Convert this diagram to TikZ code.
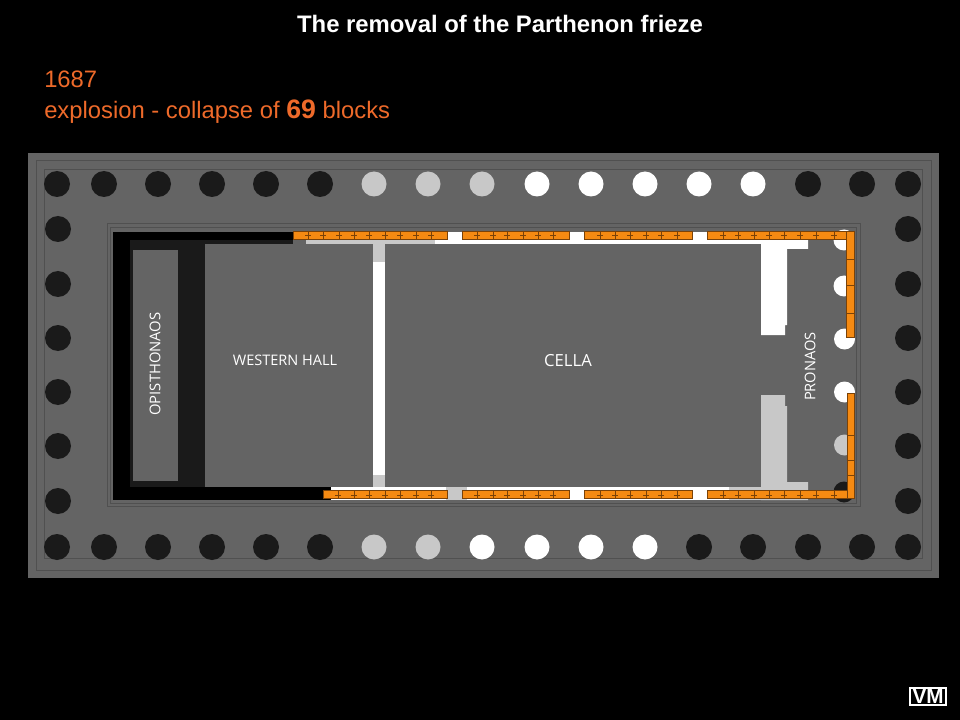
\documentclass[tikz,border=0pt]{standalone}
\usepackage{fontspec}
\setmainfont{Liberation Sans}
\newfontfamily\planfont{Open Sans}
\definecolor{slab}{HTML}{646464}
\definecolor{slabline}{HTML}{505050}
\definecolor{darkcol}{HTML}{1A1A1A}
\definecolor{lightstone}{HTML}{C8C8C8}
\definecolor{frieze}{HTML}{F58A12}
\definecolor{friezeline}{HTML}{7A4208}
\definecolor{heading}{HTML}{EE6A2A}
\tikzset{
  x=0.75pt,y=-0.75pt,
  outlinebox/.style={draw=slabline,line width=0.75pt},
  coldark/.style={fill=darkcol,draw=none},
  collight/.style={fill=lightstone,draw=none},
  colwhite/.style={fill=white,draw=none},
  friezeblock/.style={fill=frieze,draw=friezeline,line width=0.35pt},
  tick/.style={draw=friezeline,line width=0.6pt},
  roomlabel/.style={text=white,font=\planfont,inner sep=0pt},
  headline/.style={text=heading,anchor=west,inner sep=0pt,font=\fontsize{17.85}{20}\selectfont},
}
\newcommand{\colsat}[3]{\foreach \cx/\cy in {#2}{\fill[#1] (\cx,\cy) circle[radius=#3];}}
\newcommand{\topticks}[1]{\foreach \t in {#1}{\draw[tick] (\t,232)--(\t,239.5); \draw[tick] (\t-3,235)--(\t+3,235);}}
\newcommand{\botticks}[1]{\foreach \t in {#1}{\draw[tick] (\t,490.5)--(\t,498); \draw[tick] (\t-3,495)--(\t+3,495);}}
\begin{document}
\begin{tikzpicture}
\useasboundingbox (0,0) rectangle (960,720);
\fill[black] (0,0) rectangle (960,720);
% platform
\fill[slab] (28,153) rectangle (939,578);
\draw[outlinebox] (36,161) rectangle (931,570);
\draw[outlinebox] (44,170) rectangle (922,558);
\draw[outlinebox] (107,224) rectangle (860,506);
\draw[outlinebox] (110,228) rectangle (856,503);
% outer colonnade
\colsat{coldark}{57/184,104/184,158/184,212/184,266/184,320/184,808/184,862/184,908/184,
  57/547,104/547,158/547,212/547,266/547,320/547,699/547,753/547,808/547,862/547,908/547,
  58/229,58/284,58/338,58/392,58/446,58/501,
  908/229,908/284,908/338,908/392,908/446,908/501}{13}
\colsat{collight}{374/184,428/184,482/184,374/547,428/547}{12.5}
\colsat{colwhite}{537/184,591/184,645/184,699/184,753/184,482/547,537/547,591/547,645/547}{12.5}
% pronaos columns
\colsat{colwhite}{844/240,844/286,844.5/339,844.5/392}{10.5}
\colsat{collight}{844.5/445}{10.5}
\colsat{coldark}{844/492}{10.5}
% west end, fallen away
\fill[black] (113,232) rectangle (307,240);
\fill[black] (113,232) rectangle (130,500);
\fill[black] (113,487) rectangle (331,500);
\fill[darkcol] (130,240) rectangle (293,244);
\fill[darkcol] (130,240) rectangle (205,487);
\fill[slab] (133,250) rectangle (178,481);
% north and south walls
\fill[white] (435,232) rectangle (808,244);
\fill[lightstone] (306,238) rectangle (435,244);
\fill[white] (331,487) rectangle (446,500);
\fill[lightstone] (446,487) rectangle (467,500);
\fill[white] (467,487) rectangle (729,500);
\fill[lightstone] (729,487) rectangle (808,500);
% cross wall
\fill[white] (373,244) rectangle (385,487);
\fill[lightstone] (373,244) rectangle (385,262);
\fill[lightstone] (373,475) rectangle (385,487);
% east antae
\fill[white] (761,244) -- (761,335) -- (785,335) -- (785,325) -- (787,325) -- (787,249) -- (808,249) -- (808,232) -- (761,232) -- cycle;
\fill[lightstone] (761,487) -- (761,395) -- (785,395) -- (785,406) -- (787,406) -- (787,482) -- (808,482) -- (808,500) -- (761,500) -- cycle;
% frieze
\foreach \a/\b in {293/447,462/569,584/692,707/854}{\draw[friezeblock] (\a,231.5) rectangle (\b,239.5);}
\foreach \a/\b in {323/447,462/569,584/692,707/854}{\draw[friezeblock] (\a,490.5) rectangle (\b,498.5);}
\draw[friezeblock] (846,231.5) rectangle (854,337);
\draw[friezeblock] (847,393) rectangle (854,498.5);
\fill[frieze] (846.5,232) rectangle (853.5,239);
\fill[frieze] (847.5,491) rectangle (853.5,498);
\topticks{308,323,339,354,369,385,400,416,431,477,493,507,523,538,553,600,615,630,646,661,677,723,738,754,769,784,800,816,834}
\botticks{338,354,369,385,400,416,431,477,493,507,523,538,553,600,615,630,646,661,677,723,738,754,769,784,800,816,834}
\foreach \t in {259,285,313,435,460,475}{\draw[tick] (846.5,\t)--(853.5,\t);}
% texts
\node[text=white,inner sep=0pt,font=\bfseries\fontsize{17.9}{20}\selectfont] (title) at (500,24) {The removal of the Parthenon frieze};
\node[headline] (year) at (44,79) {1687};
\node[headline] (event) at (44,111.5) {explosion - collapse of {\bfseries\fontsize{20}{20}\selectfont 69} blocks};
\node[roomlabel,font=\planfont\fontsize{10.9}{12}\selectfont] (hall) at (285,360) {WESTERN HALL};
\node[roomlabel,font=\planfont\fontsize{12.5}{14}\selectfont] (cella) at (568,361) {CELLA};
\node[roomlabel,rotate=90,font=\planfont\fontsize{11.1}{12}\selectfont] (opis) at (155,364) {OPISTHONAOS};
\node[roomlabel,rotate=90,font=\planfont\fontsize{11}{12}\selectfont] (pron) at (810,366.5) {PRONAOS};
% logo
\node[draw=white,line width=1.5pt,fill=black,text=white,minimum width=27pt,minimum height=13pt,inner sep=0pt,font=\bfseries\fontsize{15.5}{16}\selectfont] (logo) at (928,696.5) {VM};
\end{tikzpicture}
\end{document}
